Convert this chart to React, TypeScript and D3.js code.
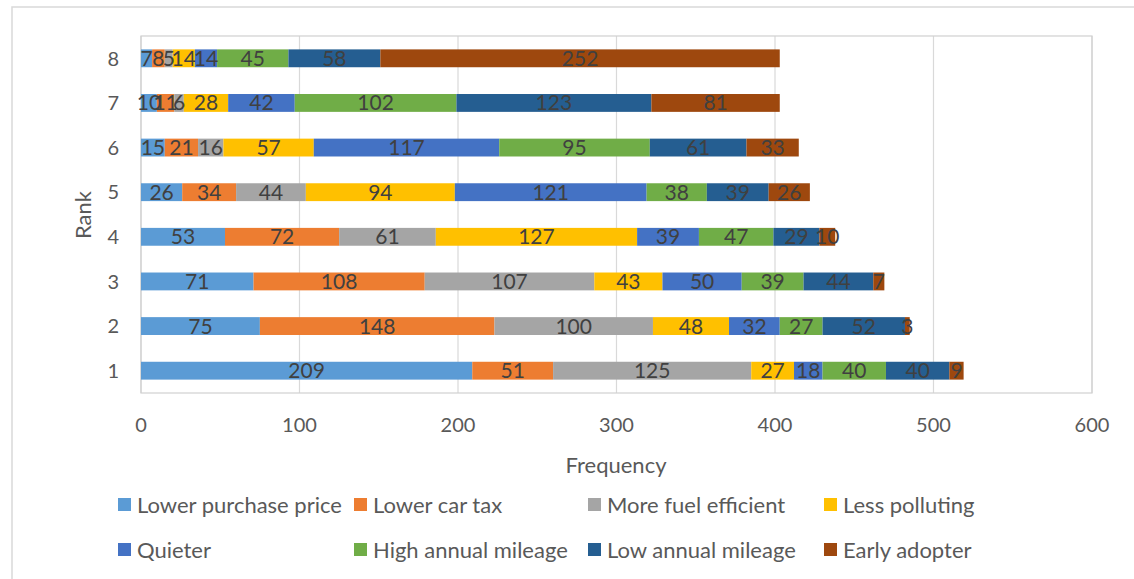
import React from "react";
import * as d3 from "d3";

// Reasons ranked 1–8, count of respondents per reason at each rank
const ranks = ["1", "2", "3", "4", "5", "6", "7", "8"];
const seriesNames = [
  "Lower purchase price",
  "Lower car tax",
  "More fuel efficient",
  "Less polluting",
  "Quieter",
  "High annual mileage",
  "Low annual mileage",
  "Early adopter",
];
const seriesColors = [
  "#5B9BD5",
  "#ED7D31",
  "#A5A5A5",
  "#FFC000",
  "#4472C4",
  "#70AD47",
  "#255E91",
  "#9E480E",
];
// values[series][rankIndex]
const lowerPurchasePrice = [209, 75, 71, 53, 26, 15, 10, 7];
const lowerCarTax = [51, 148, 108, 72, 34, 21, 11, 8];
const moreFuelEfficient = [125, 100, 107, 61, 44, 16, 6, 5];
const lessPolluting = [27, 48, 43, 127, 94, 57, 28, 14];
const quieter = [18, 32, 50, 39, 121, 117, 42, 14];
const highAnnualMileage = [40, 27, 39, 47, 38, 95, 102, 45];
const lowAnnualMileage = [40, 52, 44, 29, 39, 61, 123, 58];
const earlyAdopter = [9, 3, 7, 10, 26, 33, 81, 252];
const xTicks = [0, 100, 200, 300, 400, 500, 600];

const seriesValues = [
  lowerPurchasePrice,
  lowerCarTax,
  moreFuelEfficient,
  lessPolluting,
  quieter,
  highAnnualMileage,
  lowAnnualMileage,
  earlyAdopter,
];

const FONT = "Lato, 'Open Sans', sans-serif";

export default function App() {
  const width = 1134;
  const height = 579;
  const plot = { left: 141, right: 1092, top: 36, bottom: 393 };

  const x = d3.scaleLinear().domain([0, 600]).range([plot.left, plot.right]);
  const y = d3
    .scaleBand<string>()
    .domain([...ranks].reverse())
    .range([plot.top, plot.bottom])
    .paddingInner(0.6)
    .paddingOuter(0.3);

  const rows = ranks.map((r, i) => {
    const obj: Record<string, number | string> = { rank: r };
    seriesNames.forEach((s, j) => (obj[s] = seriesValues[j][i]));
    return obj;
  });
  const stacked = d3.stack<Record<string, number | string>>().keys(seriesNames)(rows as any);

  const legendCols = [118, 354, 588, 824];
  const legendRows = [505, 550];

  return (
    <svg
      width={width}
      height={height}
      style={{ position: "absolute", left: 0, top: 0, background: "#fff" }}
      fontFamily={FONT}
    >
      <rect x={12} y={7} width={1140} height={600} fill="#fff" stroke="#d9d9d9" strokeWidth={1.5} />
      {/* gridlines */}
      {xTicks.map((t) => (
        <line key={t} x1={x(t)} x2={x(t)} y1={plot.top} y2={plot.bottom} stroke="#d9d9d9" strokeWidth={1.2} />
      ))}
      <rect
        x={plot.left}
        y={plot.top}
        width={plot.right - plot.left}
        height={plot.bottom - plot.top}
        fill="none"
        stroke="#d0d0d0"
        strokeWidth={1.2}
      />
      {/* bars */}
      {stacked.map((layer, si) =>
        layer.map((d, ri) => {
          const r = ranks[ri];
          return (
            <rect
              key={`${si}-${ri}`}
              x={x(d[0])}
              y={y(r)!}
              width={x(d[1]) - x(d[0])}
              height={y.bandwidth()}
              fill={seriesColors[si]}
            />
          );
        })
      )}
      {/* data labels */}
      {stacked.map((layer, si) =>
        layer.map((d, ri) => {
          const r = ranks[ri];
          return (
            <text
              key={`l-${si}-${ri}`}
              x={(x(d[0]) + x(d[1])) / 2}
              y={y(r)! + y.bandwidth() / 2}
              dy="0.36em"
              textAnchor="middle"
              fontSize={21}
              fill="#404040"
            >
              {seriesValues[si][ri]}
            </text>
          );
        })
      )}
      {/* x axis labels */}
      {xTicks.map((t) => (
        <text key={`t${t}`} x={x(t)} y={425} dy="0.36em" textAnchor="middle" fontSize={20} fill="#595959">
          {t}
        </text>
      ))}
      {/* y axis labels */}
      {ranks.map((r) => (
        <text key={`r${r}`} x={119} y={y(r)! + y.bandwidth() / 2} dy="0.36em" textAnchor="end" fontSize={20} fill="#595959">
          {r}
        </text>
      ))}
      <text x={616} y={465} dy="0.36em" textAnchor="middle" fontSize={22} fill="#595959">
        Frequency
      </text>
      <text
        transform="translate(83,215) rotate(-90)"
        dy="0.36em"
        textAnchor="middle"
        fontSize={22}
        fill="#595959"
      >
        Rank
      </text>
      {/* legend */}
      {seriesNames.map((s, i) => {
        const lx = legendCols[i % 4];
        const ly = legendRows[Math.floor(i / 4)];
        return (
          <g key={`lg${i}`}>
            <rect x={lx} y={ly - 7} width={13} height={13} fill={seriesColors[i]} />
            <text x={lx + 19} y={ly} dy="0.36em" fontSize={22} fill="#595959">
              {s}
            </text>
          </g>
        );
      })}
    </svg>
  );
}
